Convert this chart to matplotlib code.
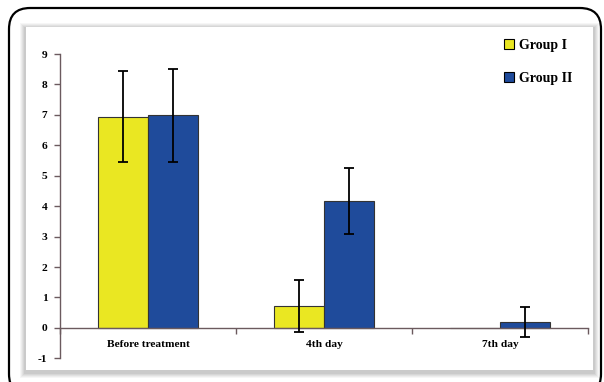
import matplotlib
matplotlib.use("Agg")
import matplotlib.pyplot as plt
import numpy as np
from matplotlib.patches import FancyBboxPatch, Rectangle, Patch

# Mean scores with SD for each group at each time point
categories = ["Before treatment", "4th day", "7th day"]
group1_mean = [6.94, 0.72, 0.0]
group1_sd = [1.50, 0.86, 0.0]
group2_mean = [6.98, 4.17, 0.19]
group2_sd = [1.52, 1.08, 0.50]
series_names = ["Group I", "Group II"]

YELLOW = "#EAE722"
BLUE = "#1F4B9B"
AXIS_COLOR = "#6b5a5e"

plt.rcParams["axes.unicode_minus"] = False

W, H = 604, 382
fig = plt.figure(figsize=(W / 100, H / 100), dpi=100)
fig.patch.set_facecolor("white")


def px_box(x0, y0, x1, y1):
    """Convert a pixel box (top-left origin) to figure fractions."""
    return x0 / W, 1 - y1 / H, (x1 - x0) / W, (y1 - y0) / H


# soft shadow around the white panel
for i, a in enumerate([0.05, 0.06, 0.07, 0.08, 0.09]):
    g = 6 - i
    x, y, w, h = px_box(26 - g, 27 - g + 2, 593 + g, 370 + g + 2)
    fig.add_artist(Rectangle((x, y), w, h, transform=fig.transFigure,
                             facecolor="#555555", edgecolor="none", alpha=a, zorder=0))
x, y, w, h = px_box(26, 27, 593, 370)
fig.add_artist(Rectangle((x, y), w, h, transform=fig.transFigure,
                         facecolor="white", edgecolor="none", zorder=0.5))

# outer rounded border
x, y, w, h = px_box(9, 8, 601, 395)
fig.add_artist(FancyBboxPatch((x, y), w, h, transform=fig.transFigure,
                              boxstyle="round,pad=0,rounding_size=0.035",
                              mutation_aspect=W / H,
                              facecolor="none", edgecolor="black", linewidth=1.6,
                              zorder=1))

ax = fig.add_axes([60 / W, 1 - 358.3 / H, 528 / W, 304.3 / H])
ax.set_zorder(3)
ax.set_facecolor("none")

n = len(categories)
centers = np.arange(n) + 0.5
bw = 0.284

err_style = dict(fmt="none", ecolor="black", elinewidth=1.3, capthick=1.3,
                 capsize=3.5, zorder=3)
for offset, means, sds, color in [(-bw / 2, group1_mean, group1_sd, YELLOW),
                                  (bw / 2, group2_mean, group2_sd, BLUE)]:
    xs = centers + offset
    ax.bar(xs, means, bw, color=color, edgecolor="#333333", linewidth=0.8,
           zorder=2)
    # skip error bars for groups with no spread
    keep = np.array(sds) > 0
    ax.errorbar(xs[keep], np.array(means)[keep], yerr=np.array(sds)[keep],
                **err_style)

ax.set_xlim(0, n)
ax.set_ylim(-1, 9)
ax.set_yticks(range(-1, 10))

for s in ["top", "right"]:
    ax.spines[s].set_visible(False)
ax.spines["bottom"].set_position(("data", 0))
ax.spines["bottom"].set_zorder(2.5)
ax.spines["left"].set_color(AXIS_COLOR)
ax.spines["bottom"].set_color(AXIS_COLOR)
ax.spines["left"].set_linewidth(1.0)
ax.spines["bottom"].set_linewidth(1.0)

ax.set_xticks(np.arange(n + 1))
ax.set_xticklabels([])
ax.set_xticks(centers, minor=True)
ax.set_xticklabels(categories, minor=True)
ax.tick_params(axis="x", which="major", direction="out", length=4,
               color=AXIS_COLOR, width=1.0)
ax.tick_params(axis="x", which="minor", length=0, pad=9)
ax.tick_params(axis="y", direction="out", length=4, color=AXIS_COLOR,
               width=1.0, pad=5)

for lab in ax.get_xticklabels(minor=True) + ax.get_yticklabels():
    lab.set_fontfamily("Liberation Serif")
    lab.set_fontweight("bold")
    lab.set_fontsize(8.2)

handles = [Patch(facecolor=YELLOW, edgecolor="black", linewidth=0.8),
           Patch(facecolor=BLUE, edgecolor="black", linewidth=0.8)]
leg = fig.legend(handles, series_names, loc="upper left",
                 bbox_to_anchor=(498 / W, 1 - 33 / H), frameon=False,
                 handlelength=0.75, handleheight=0.75, handletextpad=0.35,
                 labelspacing=1.45, borderaxespad=0,
                 prop=dict(family="Liberation Serif", weight="bold", size=10))
leg.set_zorder(4)

fig.savefig("out.png", dpi=100)
